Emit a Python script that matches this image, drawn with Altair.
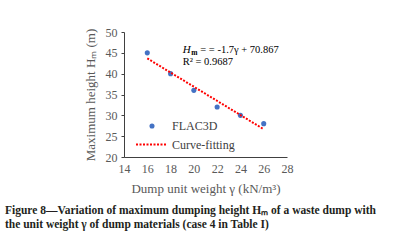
import altair as alt
import pandas as pd

gamma = [16, 18, 20, 22, 24, 26]
height = [45, 40, 36, 32, 30, 28]
x_ticks = [14, 16, 18, 20, 22, 24, 26, 28]
y_ticks = [20, 25, 30, 35, 40, 45, 50]

eq_x = [19.05]
eq_y = [45.6]

caption = [
    "Figure 8\u2014Variation of maximum dumping height H\u2098 of a waste dump with",
    "the unit weight \u03b3 of dump materials (case 4 in Table I)",
]

df = pd.DataFrame({"g": gamma, "h": height, "series": ["FLAC3D"] * len(gamma)})
ann = pd.DataFrame({"g": eq_x, "h": eq_y})

FONT = "Liberation Serif"
xs = alt.Scale(domain=[14, 28], nice=False)
ys = alt.Scale(domain=[20, 50], nice=False)

xaxis = alt.Axis(values=x_ticks, title="Dump unit weight \u03b3 (kN/m\u00b3)", grid=False,
                 ticks=False, labelPadding=6, titlePadding=8, labelOverlap=False,
                 labelFlush=False)
yaxis = alt.Axis(values=y_ticks, title="Maximum height H\u2098 (m)", grid=False,
                 tickSize=3, labelPadding=4, titlePadding=8, labelOverlap=False,
                 labelFlush=False)

pts = alt.Chart(df).mark_circle(size=26, opacity=1).encode(
    color=alt.Color("series:N", scale=alt.Scale(range=["#4472C4"]),
                    legend=alt.Legend(title=None, orient="none", legendX=22, legendY=88,
                                      symbolType="circle", symbolSize=26, labelOffset=14,
                                      labelFont=FONT, labelFontSize=12, labelColor="#404040")),
)

fit = alt.Chart(df).transform_regression("g", "h", method="linear", extent=[16, 26]).transform_calculate(
    series="'Curve-fitting'"
).mark_line(strokeDash=[2, 1.5], strokeWidth=2).encode(
    color=alt.Color("series:N", scale=alt.Scale(range=["#FF0000"]),
                    legend=alt.Legend(title=None, orient="none", legendX=11, legendY=96,
                                      symbolType="stroke", symbolSize=960, symbolStrokeWidth=2,
                                      symbolDash=[2, 1.5], labelOffset=4,
                                      labelFont=FONT, labelFontSize=12, labelColor="#404040")),
)

eqH = alt.Chart(ann).mark_text(align="left", baseline="middle", font=FONT, fontSize=11,
                                fontStyle="italic", color="#000000").encode(text=alt.value("H"))
eqm = alt.Chart(ann).mark_text(align="left", baseline="middle", font=FONT, fontSize=7.5,
                                fontWeight="bold", dx=8.5, dy=2.5, color="#000000").encode(
    text=alt.value("m"))
eqrest = alt.Chart(ann).mark_text(align="left", baseline="middle", font=FONT, fontSize=10.5,
                                   dx=17.5, color="#000000").encode(
    text=alt.value("= = -1.7\u03b3 + 70.867"))
r2 = alt.Chart(ann).mark_text(align="left", baseline="middle", font=FONT, fontSize=10.5,
                               dy=11.5, color="#000000").encode(text=alt.value("R\u00b2 = 0.9687"))

chart = alt.layer(pts, fit, eqH, eqm, eqrest, r2).encode(
    x=alt.X("g:Q", scale=xs, axis=xaxis),
    y=alt.Y("h:Q", scale=ys, axis=yaxis),
).resolve_scale(color="independent").properties(
    width=163, height=125,
    background="white",
    autosize=alt.AutoSizeParams(type="none"),
    padding={"left": 124, "top": 32, "right": 115, "bottom": 83},
    title=alt.TitleParams(text=caption, orient="bottom", anchor="start", frame="group",
                          dx=-119, offset=10, font=FONT, fontSize=11.5, fontWeight="bold",
                          color="#231F20", lineHeight=14),
).configure_view(stroke=None).configure_axis(
    domainColor="#404040", tickColor="#404040", labelColor="#595959", titleColor="#595959",
    labelFont=FONT, titleFont=FONT, labelFontSize=12, titleFontSize=13, titleFontWeight="normal",
)

chart.save("out.html", embed_options={"renderer": "svg", "actions": False})
